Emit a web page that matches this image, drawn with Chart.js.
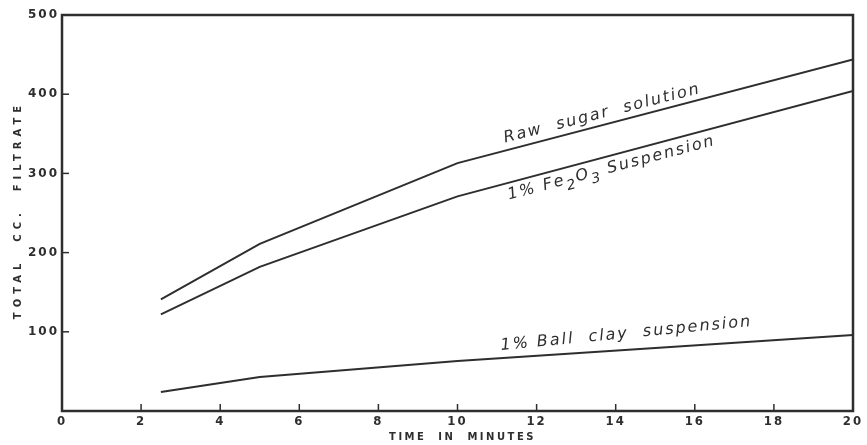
<!DOCTYPE html>
<html>
<head>
<meta charset="utf-8">
<script src="https://cdn.jsdelivr.net/npm/chart.js@4"></script>
<style>
  html, body { margin: 0; padding: 0; background: #fff; }
  #wrap { width: 867px; height: 445px; }
</style>
</head>
<body>
<div id="wrap"><canvas id="myChart"></canvas></div>
<script>
const minutes = [2.5, 5, 10, 20];
const rawSugar = [141, 211, 313, 444];
const fe2o3 = [122, 182, 271, 404];
const ballClay = [24, 43, 63, 96];
const xTicks = [0, 2, 4, 6, 8, 10, 12, 14, 16, 18, 20];
const yTicks = [0, 100, 200, 300, 400, 500];

const ink = '#2e2e2e';

function pts(ys) { return minutes.map((m, i) => ({ x: m, y: ys[i] })); }

// hand-lettered look: spaced tick labels
const spacing = {
  id: 'spacing',
  beforeDraw(chart) { chart.ctx.letterSpacing = '2px'; }
};

// curve labels along the lines, axis titles, inward ticks and box frame
const decor = {
  id: 'decor',
  afterDatasetsDraw(chart) {
    const c = chart.ctx, x = chart.scales.x, y = chart.scales.y, a = chart.chartArea;
    c.save();
    c.strokeStyle = ink;
    c.lineWidth = 2.5;
    c.strokeRect(a.left, a.top, a.right - a.left, a.bottom - a.top);
    c.lineWidth = 1.5;
    xTicks.slice(1, -1).forEach(t => {
      const px = x.getPixelForValue(t);
      c.beginPath(); c.moveTo(px, a.bottom); c.lineTo(px, a.bottom - 7); c.stroke();
    });
    yTicks.slice(1, -1).forEach(t => {
      const py = y.getPixelForValue(t);
      c.beginPath(); c.moveTo(a.left, py); c.lineTo(a.left + 7, py); c.stroke();
    });

    c.fillStyle = ink;
    // axis titles
    c.font = 'bold 10px "DejaVu Sans"';
    c.letterSpacing = '5px';
    c.textAlign = 'center';
    c.textBaseline = 'middle';
    c.save();
    c.translate(18, (a.top + a.bottom) / 2);
    c.rotate(-Math.PI / 2);
    c.fillText('TOTAL  CC.  FILTRATE', 3, 0);
    c.restore();
    c.letterSpacing = '2.5px';
    c.fillText('TIME  IN  MINUTES', (a.left + a.right) / 2 + 5, 437);

    c.textAlign = 'left';
    c.textBaseline = 'alphabetic';
    c.letterSpacing = '2px';
    const big = 'italic 16px "DejaVu Sans"';
    const small = 'italic 14px "DejaVu Sans"';
    function label(vx, vy, deg, parts) {
      c.save();
      c.translate(x.getPixelForValue(vx), y.getPixelForValue(vy));
      c.rotate(deg * Math.PI / 180);
      let off = 0;
      parts.forEach(p => {
        c.font = p.sub ? small : big;
        c.fillText(p.t, off, p.sub ? 6 : 0);
        off += c.measureText(p.t).width;
      });
      c.restore();
    }
    label(11.2, 339, -14.2, [{ t: 'Raw  sugar  solution' }]);
    label(11.3, 267, -14.8, [{ t: '1% Fe' }, { t: '2', sub: true }, { t: 'O' }, { t: '3', sub: true }, { t: ' Suspension' }]);
    label(11.1, 77, -5.5, [{ t: '1% Ball  clay  suspension' }]);
    c.restore();
  }
};

const ds = (label, ys) => ({
  label, data: pts(ys),
  borderColor: ink, borderWidth: 2, pointRadius: 0, tension: 0, fill: false
});

new Chart(document.getElementById('myChart'), {
  type: 'line',
  data: {
    datasets: [
      ds('Raw sugar solution', rawSugar),
      ds('1% Fe2O3 Suspension', fe2o3),
      ds('1% Ball clay suspension', ballClay)
    ]
  },
  options: {
    responsive: true,
    maintainAspectRatio: false,
    animation: false,
    layout: { padding: { top: 15, right: 14, left: 0, bottom: 0 } },
    plugins: { legend: { display: false }, tooltip: { enabled: false } },
    scales: {
      x: {
        type: 'linear', min: 0, max: 20,
        afterBuildTicks: s => { s.ticks = xTicks.map(v => ({ value: v })); },
        afterFit: s => { s.height = 34; },
        grid: { display: false, drawTicks: false },
        border: { display: false },
        ticks: { color: ink, padding: 3, font: { family: 'DejaVu Sans Condensed', size: 13, weight: 'bold' } }
      },
      y: {
        min: 0, max: 500,
        afterBuildTicks: s => { s.ticks = yTicks.map(v => ({ value: v })); },
        afterFit: s => { s.width = 62; },
        grid: { display: false, drawTicks: false },
        border: { display: false },
        ticks: { color: ink, padding: 3,
                 callback: v => v === 0 ? '' : v,
                 font: { family: 'DejaVu Sans', size: 12, weight: 'bold' } }
      }
    }
  },
  plugins: [spacing, decor]
});
</script>
</body>
</html>
